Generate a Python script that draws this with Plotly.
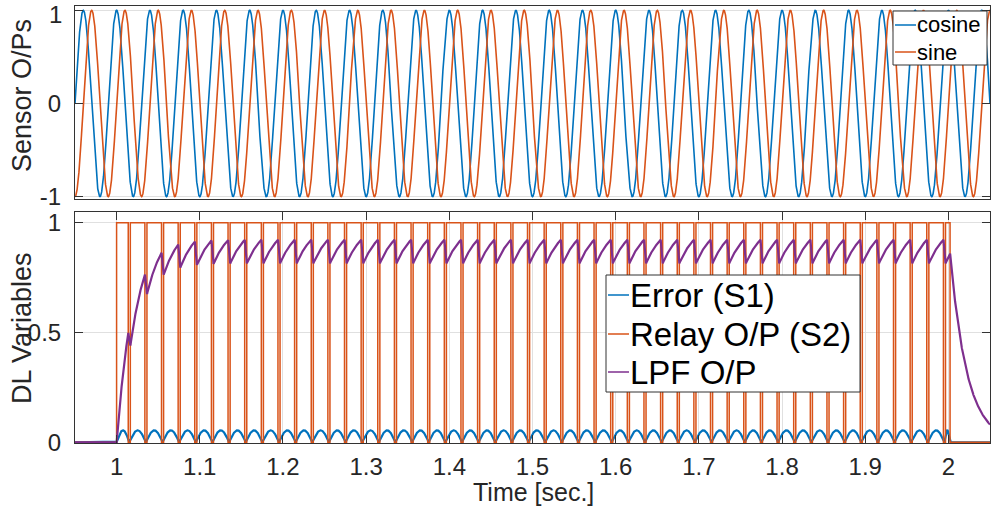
import numpy as np
import plotly.graph_objects as go

# ---------------- signal parameters ----------------
t_start, t_end = 0.95, 2.05          # time window [s]
sensor_freq = 25.0                   # sensor frequency [Hz]
sensor_amp = 1.0                     # sensor amplitude

relay_on = 1.0                       # relay switched on [s]
relay_off = 2.002                    # relay switched off [s]
dip_width = 0.0025                   # width of each short relay drop [s]
dip_starts = [1.014, 1.034, 1.054, 1.074, 1.094, 1.114, 1.134, 1.154, 1.174, 1.194,
              1.214, 1.234, 1.254, 1.274, 1.294, 1.314, 1.334, 1.354, 1.374, 1.394,
              1.414, 1.434, 1.454, 1.474, 1.494, 1.514, 1.534, 1.554, 1.574, 1.594,
              1.614, 1.634, 1.654, 1.674, 1.694, 1.714, 1.734, 1.754, 1.774, 1.794,
              1.814, 1.834, 1.854, 1.874, 1.894, 1.914, 1.934, 1.954, 1.974, 1.994]
error_peak = 0.055                   # height of the rectified error arches
lpf_tau = 0.0203                     # low-pass filter time constant [s]

x_ticks = [1.0, 1.1, 1.2, 1.3, 1.4, 1.5, 1.6, 1.7, 1.8, 1.9, 2.0]
x_tick_text = ["1", "1.1", "1.2", "1.3", "1.4", "1.5", "1.6", "1.7", "1.8", "1.9", "2"]
top_y_ticks, top_y_text = [-1, 0, 1], ["-1", "0", "1"]
bot_y_ticks, bot_y_text = [0, 0.5, 1], ["0", "0.5", "1"]

# ---------------- waveforms ----------------
dt = 0.0001
t = np.arange(t_start, t_end + dt / 2, dt)
cosine = sensor_amp * np.cos(2 * np.pi * sensor_freq * t)
sine = sensor_amp * np.sin(2 * np.pi * sensor_freq * t)

# relay output as a step sequence
rx = [t_start, relay_on, relay_on]
ry = [0, 0, 1]
for d in dip_starts:
    rx += [d, d, d + dip_width, d + dip_width]
    ry += [1, 0, 0, 1]
rx += [relay_off, relay_off, t_end]
ry += [1, 0, 0]


def relay_value(tt):
    if tt < relay_on or tt >= relay_off:
        return 0.0
    for d in dip_starts:
        if d <= tt < d + dip_width:
            return 0.0
    return 1.0


u = np.array([relay_value(v) for v in t])

# first-order low-pass filter of the relay output
a = np.exp(-dt / lpf_tau)
lpf = np.zeros_like(t)
for i in range(1, len(t)):
    lpf[i] = u[i - 1] + (lpf[i - 1] - u[i - 1]) * a

# rectified error: arches between successive relay drops
zeros = [relay_on] + [d + dip_width / 2 for d in dip_starts] + [relay_off]
err = np.zeros_like(t)
for z0, z1 in zip(zeros[:-1], zeros[1:]):
    m = (t >= z0) & (t < z1)
    err[m] = error_peak * np.sin(np.pi * (t[m] - z0) / (z1 - z0))

# ---------------- layout helpers ----------------
W, H = 992, 506
ML, MR, MT, MB = 75, 2, 6, 63
PW, PH = W - ML - MR, H - MT - MB


def px(xp):
    return (xp - ML) / PW


def py(yp):
    return (H - MB - yp) / PH


BLUE, ORANGE, PURPLE = "#0072BD", "#D95319", "#7E2F8E"
FONT = "Liberation Sans, Arial, sans-serif"
TXT = "#262626"
GRID = "#e0e0e0"
FRAME = "#333333"

fig = go.Figure()
fig.add_trace(go.Scatter(x=t, y=cosine, mode="lines", line=dict(color=BLUE, width=1.6),
                         xaxis="x2", yaxis="y2", name="cosine", showlegend=False))
fig.add_trace(go.Scatter(x=t, y=sine, mode="lines", line=dict(color=ORANGE, width=1.6),
                         xaxis="x2", yaxis="y2", name="sine", showlegend=False))
fig.add_trace(go.Scatter(x=t, y=err, mode="lines", line=dict(color=BLUE, width=2.2),
                         name="Error (S1)", showlegend=False))
fig.add_trace(go.Scatter(x=rx, y=ry, mode="lines", line=dict(color=ORANGE, width=1.5),
                         name="Relay O/P (S2)", showlegend=False))
fig.add_trace(go.Scatter(x=t, y=lpf, mode="lines", line=dict(color=PURPLE, width=2.2),
                         name="LPF O/P", showlegend=False))

# the topmost label of the upper panel sits against the page edge, so it is
# placed as an anchored annotation; the axis draws the remaining labels
top_axis_text = top_y_text[:-1] + [""]

tickfont = dict(family=FONT, size=24, color=TXT)
common_x = dict(range=[t_start, t_end], showline=True, linecolor=FRAME, linewidth=1,
                zeroline=False, automargin=False)
common_y = dict(ticks="inside", ticklen=8, tickcolor=FRAME, mirror="ticks", showline=True,
                linecolor=FRAME, showgrid=True, gridcolor=GRID, zeroline=False,
                tickfont=tickfont, ticklabelstandoff=8, ticklabeloverflow="allow",
                automargin=False)
fig.update_layout(
    width=W, height=H, margin=dict(l=ML, r=MR, t=MT, b=MB, autoexpand=False),
    paper_bgcolor="white", plot_bgcolor="white",
    xaxis=dict(**common_x, domain=[0, 1], anchor="y", tickvals=x_ticks, ticktext=x_tick_text,
               ticks="inside", ticklen=8, tickcolor=FRAME, mirror="ticks",
               showgrid=True, gridcolor=GRID, tickfont=tickfont, ticklabelstandoff=2),
    yaxis=dict(**common_y, domain=[0, py(211.7)], anchor="x", range=[-0.003, 1.05],
               tickvals=bot_y_ticks, ticktext=bot_y_text),
    xaxis2=dict(**common_x, domain=[0, 1], anchor="y2", showticklabels=False, ticks="",
                mirror=True, showgrid=False),
    yaxis2=dict(**common_y, domain=[py(199), 1], anchor="x2", range=[-1.025, 1.046],
                tickvals=top_y_ticks, ticktext=top_axis_text),
)

annotations = [
    dict(text="Sensor O/Ps", x=px(22), y=py(96), textangle=-90, font_size=27),
    dict(text="DL Variables", x=px(22), y=py(328), textangle=-90, font_size=27),
    dict(text="Time [sec.]", x=px(533), y=py(492), font_size=25),
]
for an in annotations:
    size = an.pop("font_size")
    an.update(xref="paper", yref="paper", xanchor="center", yanchor="middle",
              showarrow=False, font=dict(family=FONT, size=size, color=TXT))

annotations.append(dict(text=top_y_text[-1], xref="paper", yref="paper",
                        x=px(63), y=py(0), xanchor="right", yanchor="top",
                        showarrow=False, borderpad=0, font=tickfont))

shapes = []


def add_legend(box, rows, line_x, text_x, size):
    x0, y0, x1, y1 = box
    shapes.append(dict(type="rect", xref="paper", yref="paper",
                       x0=px(x0), x1=px(x1), y0=py(y1), y1=py(y0),
                       line=dict(color=FRAME, width=1), fillcolor="white", layer="above"))
    for label, color, yc in rows:
        shapes.append(dict(type="line", xref="paper", yref="paper",
                           x0=px(line_x[0]), x1=px(line_x[1]), y0=py(yc), y1=py(yc),
                           line=dict(color=color, width=1.5), layer="above"))
        annotations.append(dict(text=label, xref="paper", yref="paper", x=px(text_x), y=py(yc),
                                xanchor="left", yanchor="middle", showarrow=False,
                                font=dict(family=FONT, size=size, color="black")))


add_legend((893, 11, 987, 65), [("cosine", BLUE, 25), ("sine", ORANGE, 52)],
           (895, 916), 915, 22)
add_legend((606, 275, 860, 392),
           [("Error (S1)", BLUE, 295), ("Relay O/P (S2)", ORANGE, 334), ("LPF O/P", PURPLE, 372)],
           (608, 629), 628, 33)

fig.update_layout(annotations=annotations, shapes=shapes)
fig.write_html("out.html")
